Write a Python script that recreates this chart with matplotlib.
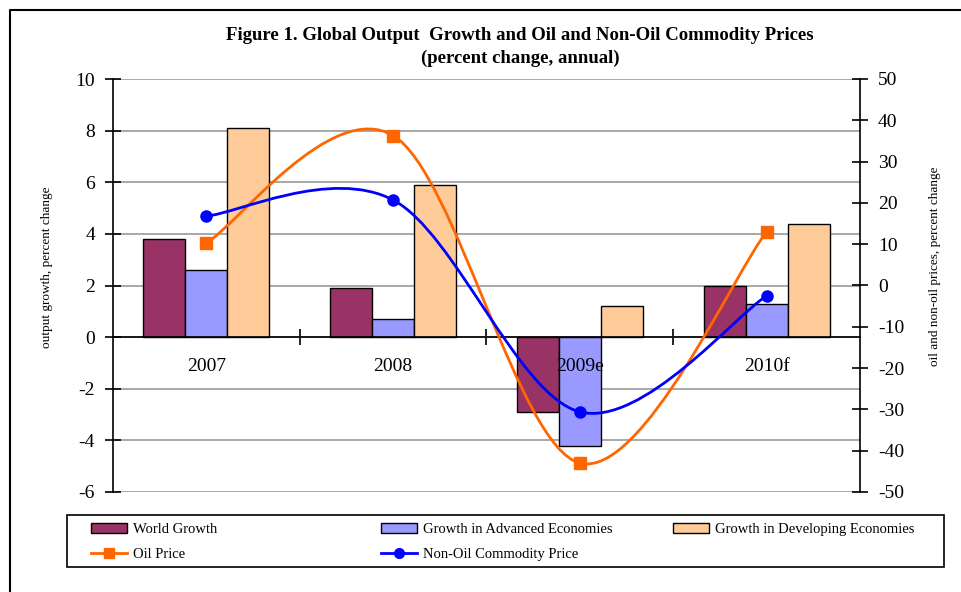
import numpy as np
import matplotlib
matplotlib.use('Agg')
import matplotlib.pyplot as plt
from matplotlib.path import Path
from matplotlib.patches import PathPatch, Rectangle
from matplotlib.lines import Line2D

# Dados do gráfico
years = ['2007', '2008', '2009e', '2010f']
world_growth = [3.8, 1.9, -2.9, 2.0]
advanced_growth = [2.6, 0.7, -4.2, 1.3]
developing_growth = [8.1, 5.9, 1.2, 4.4]
oil_price = [10.3, 36.3, -43.0, 13.0]
non_oil_price = [16.8, 20.7, -30.6, -2.5]

plt.rcParams['font.family'] = ['Liberation Serif', 'DejaVu Serif']
plt.rcParams['axes.unicode_minus'] = False

c_world = '#993366'
c_adv = '#9999FF'
c_dev = '#FFCC99'
c_oil = '#FF6600'
c_nonoil = '#0000FF'


def smooth_path(xs, ys):
    # Curva suavizada (Bezier tipo Catmull-Rom, como no Excel)
    pts = np.column_stack([xs, ys]).astype(float)
    n = len(pts)
    verts = [pts[0]]
    codes = [Path.MOVETO]
    for i in range(n - 1):
        p0 = pts[max(i - 1, 0)]
        p1 = pts[i]
        p2 = pts[i + 1]
        p3 = pts[min(i + 2, n - 1)]
        c1 = p1 + (p2 - p0) / 6
        c2 = p2 - (p3 - p1) / 6
        verts += [c1, c2, p2]
        codes += [Path.CURVE4] * 3
    return Path(verts, codes)


fig = plt.figure(figsize=(9.62, 5.92), dpi=100)
ax = fig.add_axes([113 / 962, 1 - 492 / 592, 747 / 962, 413 / 592])

x = np.arange(len(years))
w = 0.225
ax.bar(x - w, world_growth, w, color=c_world, edgecolor='black', linewidth=1, zorder=2)
ax.bar(x, advanced_growth, w, color=c_adv, edgecolor='black', linewidth=1, zorder=2)
ax.bar(x + w, developing_growth, w, color=c_dev, edgecolor='black', linewidth=1, zorder=2)

ax.set_xlim(-0.5, len(years) - 0.5)
ax.set_ylim(-6, 10)
ax.set_yticks(np.arange(-6, 11, 2))
ax.yaxis.grid(True, color='#999999', linewidth=1.2)
ax.set_axisbelow(True)
ax.tick_params(axis='y', direction='inout', length=12, width=1.2, labelsize=14, pad=7)

# eixo das categorias passa pelo zero
ax.spines['bottom'].set_position(('data', 0))
ax.spines['bottom'].set_linewidth(1.2)
ax.spines['bottom'].set_zorder(3)
ax.spines['top'].set_visible(False)
ax.spines['left'].set_linewidth(1.2)
ax.spines['right'].set_visible(False)
ax.set_xticks(x[:-1] + 0.5)
ax.set_xticklabels([])
ax.tick_params(axis='x', which='major', direction='inout', length=12, width=1.2)

# rótulos das categorias por cima das barras
for xi, label in zip(x, years):
    ax.annotate(label, (xi, 0), xytext=(0, -21), textcoords='offset points',
                ha='center', va='center', fontsize=14, zorder=6)

# eixo secundário: preços
ax2 = ax.twinx()
ax2.set_ylim(-50, 50)
ax2.set_yticks(np.arange(-50, 51, 10))
ax2.tick_params(axis='y', direction='inout', length=12, width=1.2, labelsize=14, pad=7)
for s in ['top', 'bottom', 'left']:
    ax2.spines[s].set_visible(False)
ax2.spines['right'].set_linewidth(1.2)

ax2.add_patch(PathPatch(smooth_path(x, oil_price), facecolor='none',
                        edgecolor=c_oil, linewidth=2, zorder=4))
ax2.add_patch(PathPatch(smooth_path(x, non_oil_price), facecolor='none',
                        edgecolor=c_nonoil, linewidth=2, zorder=4))
ax2.plot(x, oil_price, linestyle='none', marker='s', markersize=8, color=c_oil, zorder=5)
ax2.plot(x, non_oil_price, linestyle='none', marker='o', markersize=8, color=c_nonoil, zorder=5)

# títulos
fig.text(520 / 962, 1 - 36 / 592,
         'Figure 1. Global Output  Growth and Oil and Non-Oil Commodity Prices',
         ha='center', va='center', fontsize=13.5, fontweight='bold')
fig.text(520 / 962, 1 - 58 / 592, '(percent change, annual)',
         ha='center', va='center', fontsize=13.5, fontweight='bold')
fig.text(47 / 962, 1 - 267 / 592, 'output growth, percent change',
         rotation=90, ha='center', va='center', fontsize=9.5)
fig.text(935 / 962, 1 - 266 / 592, 'oil and non-oil prices, percent change',
         rotation=90, ha='center', va='center', fontsize=9.5)

# legenda em três colunas dentro de uma caixa
fig.patches.append(Rectangle((67 / 962, 1 - 567 / 592), 877 / 962, 52 / 592,
                             transform=fig.transFigure, fill=False,
                             edgecolor='black', linewidth=1.2))

h_world = Rectangle((0, 0), 1, 1, facecolor=c_world, edgecolor='black')
h_adv = Rectangle((0, 0), 1, 1, facecolor=c_adv, edgecolor='black')
h_dev = Rectangle((0, 0), 1, 1, facecolor=c_dev, edgecolor='black')
h_oil = Line2D([], [], color=c_oil, marker='s', markersize=7, linewidth=2)
h_nonoil = Line2D([], [], color=c_nonoil, marker='o', markersize=7, linewidth=2)

cols = [([h_world, h_oil], ['World Growth', 'Oil Price'], 91),
        ([h_adv, h_nonoil], ['Growth in Advanced Economies', 'Non-Oil Commodity Price'], 381),
        ([h_dev], ['Growth in Developing Economies'], 673)]
for handles, labels, px in cols:
    leg = fig.legend(handles, labels, loc='upper left',
                     bbox_to_anchor=(px / 962, 1 - 523 / 592),
                     frameon=False, fontsize=10.5, borderpad=0, borderaxespad=0,
                     handlelength=2.5, handletextpad=0.35, labelspacing=0.8)

# moldura externa
fig.add_artist(Line2D([10 / 962, 10 / 962, 1], [0, 1 - 10 / 592, 1 - 10 / 592],
                      transform=fig.transFigure, color='black', linewidth=1.5))

plt.savefig('out.png', dpi=100)
